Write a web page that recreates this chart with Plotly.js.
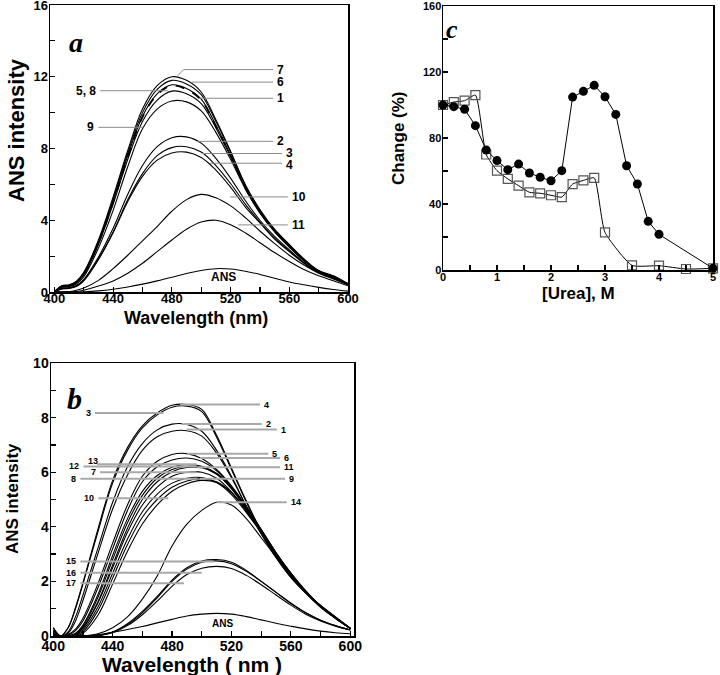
<!DOCTYPE html>
<html>
<head>
<meta charset="utf-8">
<script src="https://cdn.plot.ly/plotly-3.0.1.min.js"></script>
<style>
  html, body { margin: 0; padding: 0; background: #fff; }
  #chart { width: 720px; height: 675px; }
</style>
</head>
<body>
<div id="chart"></div>
<script>
// wavelength grid (nm) shared by panels a and b
const wl = [400, 405, 410, 415, 420, 430, 440, 450, 460, 470, 480, 490, 500, 510, 520, 530, 540, 550, 560, 570, 580, 590, 600];

// panel a spectra
const a1 = [0, 0.28, 0.34, 0.5, 0.95, 2.65, 4.9, 7.4, 9.5, 10.7, 11.2, 11.05, 10.5, 9.15, 7.55, 5.8, 4.45, 3.38, 2.52, 1.76, 1.15, 0.85, 0.45];
const a2 = [0, 0.2, 0.25, 0.36, 0.7, 1.95, 3.55, 5.45, 7.05, 8.1, 8.6, 8.65, 8.3, 7.45, 6.35, 5.1, 4.0, 3.1, 2.35, 1.65, 1.1, 0.8, 0.42];
const a3 = [0, 0.18, 0.22, 0.33, 0.65, 1.85, 3.35, 5.15, 6.6, 7.6, 8.05, 8.1, 7.8, 7.05, 6.05, 4.9, 3.9, 3.0, 2.3, 1.62, 1.08, 0.78, 0.42];
const a4 = [0, 0.17, 0.2, 0.31, 0.62, 1.8, 3.3, 5.05, 6.45, 7.35, 7.75, 7.8, 7.5, 6.8, 5.85, 4.75, 3.85, 2.95, 2.25, 1.6, 1.07, 0.77, 0.42];
const a5 = [0, 0.3, 0.36, 0.53, 1.0, 2.75, 5.05, 7.6, 9.8, 11.05, 11.55, 11.35, 10.75, 9.3, 7.65, 5.85, 4.5, 3.4, 2.55, 1.78, 1.16, 0.86, 0.45];
const a6 = [0, 0.32, 0.38, 0.57, 1.05, 2.8, 5.15, 7.75, 10.0, 11.3, 11.8, 11.6, 11.0, 9.5, 7.8, 5.95, 4.55, 3.45, 2.6, 1.8, 1.18, 0.88, 0.45];
const a7 = [0, 0.35, 0.4, 0.6, 1.1, 2.9, 5.3, 7.9, 10.2, 11.5, 12.0, 11.8, 11.15, 9.6, 7.85, 6.0, 4.6, 3.5, 2.65, 1.85, 1.2, 0.9, 0.45];
const a8 = [0, 0.3, 0.35, 0.52, 0.98, 2.72, 5.0, 7.55, 9.75, 11.0, 11.5, 11.3, 10.7, 9.25, 7.6, 5.82, 4.48, 3.4, 2.55, 1.78, 1.16, 0.86, 0.45];
const a9 = [0, 0.25, 0.3, 0.45, 0.85, 2.45, 4.55, 7.0, 9.1, 10.2, 10.65, 10.6, 10.1, 8.9, 7.4, 5.75, 4.4, 3.35, 2.5, 1.74, 1.14, 0.84, 0.45];
const a10 = [0, 0, 0.02, 0.1, 0.22, 0.65, 1.3, 2.05, 2.85, 3.65, 4.5, 5.15, 5.44, 5.25, 4.8, 4.15, 3.4, 2.7, 2.05, 1.5, 1.05, 0.72, 0.4];
const a11 = [0, 0, 0, 0.03, 0.1, 0.33, 0.62, 1.05, 1.6, 2.25, 2.9, 3.5, 3.9, 4.0, 3.75, 3.3, 2.75, 2.2, 1.7, 1.25, 0.9, 0.63, 0.35];
const aANS = [0, 0, 0, 0, 0.01, 0.06, 0.15, 0.28, 0.44, 0.62, 0.82, 1.03, 1.2, 1.3, 1.28, 1.16, 0.98, 0.77, 0.56, 0.4, 0.26, 0.14, 0.05];

// panel b spectra
const b1 = [0.2, 0, 0.1, 0.55, 1.3, 3.0, 4.65, 5.9, 6.8, 7.3, 7.5, 7.52, 7.32, 6.7, 5.8, 4.75, 3.75, 2.88, 2.15, 1.58, 1.1, 0.68, 0.28];
const b2 = [0.3, 0, 0.15, 0.7, 1.5, 3.2, 4.9, 6.2, 7.05, 7.55, 7.76, 7.75, 7.5, 6.8, 5.85, 4.75, 3.75, 2.88, 2.15, 1.58, 1.1, 0.68, 0.28];
const b3 = [0.3, 0, 0.3, 1.0, 1.9, 3.8, 5.6, 6.8, 7.62, 8.1, 8.38, 8.42, 8.22, 7.28, 6.1, 4.9, 3.82, 2.93, 2.18, 1.6, 1.12, 0.7, 0.28];
const b4 = [0.3, 0, 0.3, 1.05, 1.95, 3.9, 5.7, 6.9, 7.7, 8.17, 8.45, 8.48, 8.3, 7.35, 6.15, 4.95, 3.85, 2.95, 2.2, 1.6, 1.12, 0.7, 0.28];
const b5 = [0.2, 0, 0.05, 0.25, 0.65, 1.9, 3.4, 4.8, 5.85, 6.4, 6.65, 6.68, 6.5, 6.1, 5.5, 4.75, 3.9, 3.05, 2.3, 1.65, 1.1, 0.68, 0.28];
const b6 = [0.2, 0, 0.03, 0.2, 0.55, 1.75, 3.2, 4.6, 5.65, 6.2, 6.45, 6.52, 6.4, 6.05, 5.45, 4.7, 3.9, 3.05, 2.3, 1.65, 1.1, 0.68, 0.28];
const b7 = [0.1, 0, 0, 0.05, 0.28, 1.2, 2.5, 3.8, 4.8, 5.45, 5.85, 6.0, 6.0, 5.78, 5.28, 4.58, 3.82, 3.0, 2.25, 1.6, 1.08, 0.66, 0.28];
const b8 = [0.1, 0, 0, 0.03, 0.22, 1.05, 2.3, 3.55, 4.55, 5.2, 5.6, 5.78, 5.8, 5.62, 5.18, 4.52, 3.78, 2.97, 2.25, 1.6, 1.08, 0.66, 0.28];
const b9 = [0.1, 0, 0, 0.02, 0.16, 0.92, 2.12, 3.35, 4.35, 5.0, 5.45, 5.68, 5.76, 5.65, 5.25, 4.58, 3.82, 3.0, 2.25, 1.6, 1.08, 0.66, 0.28];
const b10 = [0.1, 0, 0, 0, 0.1, 0.75, 1.9, 3.1, 4.1, 4.8, 5.3, 5.58, 5.7, 5.62, 5.25, 4.6, 3.82, 3.0, 2.25, 1.6, 1.08, 0.66, 0.28];
const b11 = [0.1, 0, 0, 0.05, 0.3, 1.25, 2.6, 3.95, 5.0, 5.65, 6.02, 6.17, 6.16, 5.95, 5.45, 4.7, 3.9, 3.05, 2.3, 1.62, 1.08, 0.66, 0.28];
const b12 = [0.1, 0, 0, 0.08, 0.35, 1.4, 2.8, 4.15, 5.15, 5.78, 6.1, 6.22, 6.18, 5.92, 5.4, 4.65, 3.85, 3.0, 2.25, 1.6, 1.08, 0.66, 0.28];
const b13 = [0.1, 0, 0, 0.1, 0.4, 1.5, 2.95, 4.3, 5.3, 5.88, 6.18, 6.28, 6.22, 5.95, 5.4, 4.65, 3.85, 3.0, 2.25, 1.6, 1.08, 0.66, 0.28];
const b14 = [0, 0, 0, 0, 0, 0.08, 0.3, 0.7, 1.35, 2.2, 3.3, 4.1, 4.6, 4.9, 4.8, 4.3, 3.6, 2.9, 2.2, 1.58, 1.05, 0.64, 0.28];
const b15 = [0, 0, 0, 0, 0, 0.02, 0.15, 0.45, 0.9, 1.45, 2.05, 2.5, 2.75, 2.8, 2.7, 2.4, 2.0, 1.6, 1.2, 0.85, 0.58, 0.38, 0.22];
const b16 = [0, 0, 0, 0, 0, 0.02, 0.14, 0.42, 0.85, 1.4, 2.0, 2.45, 2.7, 2.75, 2.65, 2.37, 2.0, 1.6, 1.2, 0.85, 0.58, 0.38, 0.22];
const b17 = [0, 0, 0, 0, 0, 0.02, 0.12, 0.38, 0.78, 1.28, 1.82, 2.25, 2.48, 2.55, 2.47, 2.22, 1.88, 1.5, 1.13, 0.8, 0.55, 0.36, 0.22];
const bANS = [0, 0, 0, 0, 0, 0.05, 0.14, 0.24, 0.35, 0.48, 0.61, 0.73, 0.8, 0.83, 0.8, 0.71, 0.59, 0.47, 0.36, 0.26, 0.18, 0.12, 0.08];

// panel c: change (%) vs urea
const ureaCircle = [0, 0.2, 0.4, 0.6, 0.8, 1.0, 1.2, 1.4, 1.6, 1.8, 2.0, 2.2, 2.4, 2.6, 2.8, 3.0, 3.2, 3.4, 3.6, 3.8, 4.0, 5.0];
const changeCircle = [100, 99, 97.4, 87.5, 72.7, 66.3, 60.8, 64.2, 58.8, 56.2, 54.1, 60.2, 104.8, 108.3, 111.9, 105, 94.3, 63.2, 52.1, 29.5, 21.6, 1];
const ureaSquare = [0, 0.2, 0.4, 0.6, 0.8, 1.0, 1.2, 1.4, 1.6, 1.8, 2.0, 2.2, 2.4, 2.6, 2.8, 3.0, 3.5, 4.0, 4.5, 5.0];
const changeSquare = [100, 101.8, 102.6, 106, 70, 60.2, 55.2, 51.1, 47.1, 46.5, 45.3, 44.2, 52.1, 54.3, 55.8, 22.8, 2.8, 2.6, 0.6, 1];

// curve labels with their leader lines (data coords)
const labelsA = [
  { text: "7", pts: [[484, 12.05], [488, 12.4], [549, 12.4]], side: "r" },
  { text: "6", pts: [[493.5, 11.7], [549, 11.7]], side: "r" },
  { text: "5, 8", pts: [[431, 11.22], [477.5, 11.22]], side: "l" },
  { text: "1", pts: [[499, 10.8], [549, 10.8]], side: "r" },
  { text: "9", pts: [[430, 9.18], [460.6, 9.18]], side: "l" },
  { text: "2", pts: [[497, 8.4], [549, 8.4]], side: "r" },
  { text: "3", pts: [[500.3, 7.72], [555, 7.72]], side: "r", dy: 1 },
  { text: "4", pts: [[506, 7.18], [555, 7.18]], side: "r", dy: -2 },
  { text: "10", pts: [[519.6, 5.3], [559, 5.3]], side: "r" },
  { text: "11", pts: [[525.3, 3.74], [559, 3.74]], side: "r" }
];
const labelsB = [
  { text: "4", pts: [[485.4, 8.48], [539.2, 8.48]], side: "r" },
  { text: "3", pts: [[428.1, 8.17], [474.1, 8.17]], side: "l" },
  { text: "2", pts: [[486.5, 7.77], [540.4, 7.77]], side: "r" },
  { text: "1", pts: [[489.9, 7.56], [550.5, 7.56]], side: "r" },
  { text: "5", pts: [[489.9, 6.68], [544.8, 6.68]], side: "r" },
  { text: "6", pts: [[498.8, 6.52], [552.7, 6.52]], side: "r" },
  { text: "12", pts: [[420.3, 6.21], [496.6, 6.21]], side: "l" },
  { text: "", pts: [[429.5, 6.29], [496.6, 6.29]], side: "l" },
  { text: "11", pts: [[496.6, 6.18], [552.7, 6.18]], side: "r" },
  { text: "7", pts: [[431.5, 6.0], [496.6, 6.0]], side: "l" },
  { text: "8", pts: [[418.3, 5.76], [496.6, 5.76]], side: "l" },
  { text: "9", pts: [[498.8, 5.76], [556.1, 5.76]], side: "r" },
  { text: "10", pts: [[430.4, 5.05], [477.5, 5.05]], side: "l" },
  { text: "14", pts: [[510.1, 4.9], [557.2, 4.9]], side: "r" },
  { text: "15", pts: [[418.3, 2.73], [508, 2.73]], side: "l" },
  { text: "16", pts: [[418.3, 2.32], [500, 2.32]], side: "l" },
  { text: "17", pts: [[418.3, 1.93], [488, 1.93]], side: "l" }
];

const FONT = "Liberation Sans, Arial, Helvetica, sans-serif";
const SERIF = "Liberation Serif, Times New Roman, serif";

const curve = (y, xa, ya, dash) => ({
  x: wl, y: y, xaxis: xa, yaxis: ya,
  type: "scatter", mode: "lines",
  line: { color: "#000", width: dash ? 1.8 : 1.1, shape: "spline", smoothing: 1, dash: dash || "solid" },
  hoverinfo: "skip", showlegend: false
});

const traces = [];
[a1, a2, a3, a4, a5, a6, a7, a9, a10, a11, aANS].forEach(s => traces.push(curve(s, "x", "y")));
traces.push(curve(a8, "x", "y", "dash"));
[b1, b2, b3, b4, b5, b6, b7, b8, b9, b10, b11, b12, b13, b14, b15, b16, b17, bANS]
  .forEach(s => traces.push(curve(s, "x3", "y3")));

traces.push({
  x: ureaSquare, y: changeSquare, xaxis: "x2", yaxis: "y2",
  type: "scatter", mode: "lines+markers", cliponaxis: false,
  line: { color: "#000", width: 1, shape: "spline", smoothing: 0.5 },
  marker: { symbol: "square-open", size: 9, color: "#555", line: { width: 1.2, color: "#555" } },
  showlegend: false
});
traces.push({
  x: ureaCircle, y: changeCircle, xaxis: "x2", yaxis: "y2",
  type: "scatter", mode: "lines+markers", cliponaxis: false,
  line: { color: "#000", width: 1 },
  marker: { symbol: "circle", size: 9, color: "#000" },
  showlegend: false
});

function axis(domain, range, dtick, minorDtick, anchor, size, standoff) {
  return {
    domain: domain, range: range, anchor: anchor,
    tick0: 0, dtick: dtick,
    ticks: "inside", ticklen: 5, tickwidth: 1.2, tickcolor: "#000",
    minor: { dtick: minorDtick, ticks: "inside", ticklen: 5, tickwidth: 1.2, tickcolor: "#000", showgrid: false },
    showline: true, linecolor: "#000", linewidth: 1.5, mirror: true,
    showgrid: false, zeroline: false, fixedrange: true,
    ticklabeloverflow: "allow",
    ticklabelstandoff: standoff,
    tickfont: { family: FONT, size: size, color: "#000", weight: "bold" }
  };
}

const shapes = [];
const annotations = [];
function addLabels(list, xa, ya, color, width, size) {
  list.forEach(lab => {
    for (let i = 0; i < lab.pts.length - 1; i++) {
      shapes.push({
        type: "line", xref: xa, yref: ya,
        x0: lab.pts[i][0], y0: lab.pts[i][1], x1: lab.pts[i + 1][0], y1: lab.pts[i + 1][1],
        line: { color: color, width: width }
      });
    }
    if (!lab.text) return;
    const end = lab.side === "r" ? lab.pts[lab.pts.length - 1] : lab.pts[0];
    annotations.push({
      xref: xa, yref: ya, x: end[0], y: end[1], text: lab.text, showarrow: false,
      xanchor: lab.side === "r" ? "left" : "right", yanchor: "middle",
      xshift: lab.side === "r" ? 2 : -2, yshift: lab.dy || 0,
      font: { family: FONT, size: size, color: "#000", weight: "bold" }
    });
  });
}
addLabels(labelsA, "x", "y", "#8a8a8a", 1, 12);
addLabels(labelsB, "x3", "y3", "#a8a8a8", 2, 9);

const textAt = (xa, ya, x, y, text, size, extra) => Object.assign({
  xref: xa, yref: ya, x: x, y: y, text: text, showarrow: false,
  xanchor: "center", yanchor: "middle",
  font: { family: FONT, size: size, color: "#000", weight: "bold" }
}, extra || {});

annotations.push(textAt("x", "y", 515, 0.81, "ANS", 12));
annotations.push(textAt("x3", "y3", 514, 0.46, "ANS", 10));
annotations.push(textAt("x3", "y3", 426.5, 6.42, "13", 9));

// panel letters
annotations.push(textAt("x", "y", 415, 13.9, "<b><i>a</i></b>", 28, { font: { family: SERIF, size: 28, color: "#000" } }));
annotations.push(textAt("x3", "y3", 414.5, 8.7, "<b><i>b</i></b>", 30, { font: { family: SERIF, size: 30, color: "#000" } }));
annotations.push(textAt("x2", "y2", 0.17, 146, "<b><i>c</i></b>", 26, { font: { family: SERIF, size: 26, color: "#000" } }));

// axis titles
annotations.push(textAt("paper", "paper", 16 / 720, 1 - 130 / 675, "ANS intensity", 22, { textangle: -90 }));
annotations.push(textAt("paper", "paper", 196 / 720, 1 - 318 / 675, "Wavelength (nm)", 18));
annotations.push(textAt("paper", "paper", 398 / 720, 1 - 138 / 675, "Change (%)", 17, { textangle: -90 }));
annotations.push(textAt("paper", "paper", 578 / 720, 1 - 293 / 675, "[Urea], M", 17));
annotations.push(textAt("paper", "paper", 12 / 720, 1 - 499 / 675, "ANS intensity", 17, { textangle: -90 }));
annotations.push(textAt("paper", "paper", 192 / 720, 1 - 664 / 675, "Wavelength ( nm )", 21));

const layout = {
  width: 720, height: 675,
  margin: { l: 0, r: 0, t: 0, b: 0 },
  paper_bgcolor: "#fff", plot_bgcolor: "#fff",
  showlegend: false,
  xaxis: axis([50 / 720, 348 / 720], [397, 600], 40, 20, "y", 13, -6),
  yaxis: axis([1 - 292 / 675, 1 - 5 / 675], [0, 16], 4, 2, "x", 13, -2),
  xaxis2: axis([443 / 720, 713 / 720], [0, 5], 1, 0.5, "y2", 11, -4),
  yaxis2: axis([1 - 270 / 675, 1 - 6 / 675], [0, 160], 40, 20, "x2", 11, -2),
  xaxis3: axis([51 / 720, 354 / 720], [398.5, 602.5], 40, 20, "y3", 14, -3),
  yaxis3: axis([1 - 636 / 675, 1 - 363 / 675], [0, 10], 2, 1, "x3", 14, -2),
  shapes: shapes,
  annotations: annotations
};

Plotly.newPlot("chart", traces, layout, { displayModeBar: false, staticPlot: true });
</script>
</body>
</html>
